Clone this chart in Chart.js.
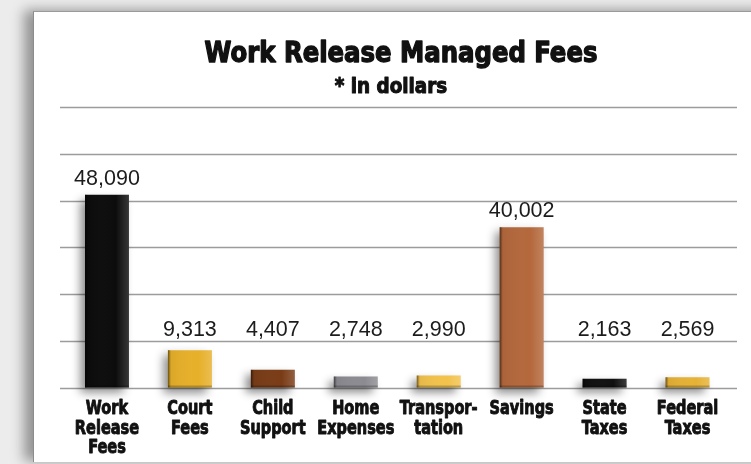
<!DOCTYPE html>
<html>
<head>
<meta charset="utf-8">
<script src="https://cdn.jsdelivr.net/npm/chart.js@4.4.1/dist/chart.umd.min.js"></script>
<style>
  html, body { margin: 0; padding: 0; width: 751px; height: 464px; overflow: hidden; background: #ececec; }
  #panel {
    position: absolute; left: 33px; top: 11px; right: -30px; bottom: 2px;
    background: #ffffff;
    border-left: 1px solid #8c8c8c; border-top: 1px solid #9a9a9a;
    box-shadow: -9px -1px 12px rgba(0,0,0,0.38);
  }
  #wrap { position: absolute; left: 0; top: 0; width: 751px; height: 464px; }
</style>
</head>
<body>
<div id="panel"></div>
<div id="wrap"><canvas id="chart" width="751" height="464"></canvas></div>
<script>
// Chart heading
const titleText = 'Work Release Managed Fees';
const subtitleText = '* in dollars';
// Categories (multi-line axis labels)
const categories = [
  ['Work', 'Release', 'Fees'],
  ['Court', 'Fees'],
  ['Child', 'Support'],
  ['Home', 'Expenses'],
  ['Transpor-', 'tation'],
  ['Savings'],
  ['State', 'Taxes'],
  ['Federal', 'Taxes']
];
// Amounts in dollars
const amounts = [48090, 9313, 4407, 2748, 2990, 40002, 2163, 2569];
const barColors = ['#0c0c0c', '#e7b02a', '#7a3c17', '#8b8b91', '#f2c24c', '#b4683c', '#101010', '#e6b236'];
// Value axis: six equal bands up to the top rule
const axisMax = 70000;
const axisBands = 6;

const condensed = "'DejaVu Sans Condensed', 'Liberation Sans Narrow', sans-serif";

// Heavy condensed text: fill plus a thin outline to thicken the strokes
function heavyText(ctx, text, x, y, size, sx, weight) {
  ctx.save();
  ctx.font = 'bold ' + size + 'px ' + condensed;
  ctx.fillStyle = '#111';
  ctx.strokeStyle = '#111';
  ctx.lineWidth = weight;
  ctx.lineJoin = 'round';
  ctx.textAlign = 'center';
  ctx.textBaseline = 'alphabetic';
  ctx.translate(x, y);
  ctx.scale(sx, 1);
  ctx.fillText(text, 0, 0);
  ctx.strokeText(text, 0, 0);
  ctx.restore();
}

// Title block above the rules
const headingPlugin = {
  id: 'heading',
  afterDraw(chart) {
    const ctx = chart.ctx;
    heavyText(ctx, titleText, 401, 61.5, 28.5, 0.95, 1.3);
    heavyText(ctx, subtitleText, 391, 93.3, 21.5, 0.95, 1.0);
  }
};

// Horizontal rules across the panel, at the value-axis ticks
const rulesPlugin = {
  id: 'rules',
  beforeDatasetsDraw(chart) {
    const y = chart.scales.y;
    const ctx = chart.ctx;
    ctx.save();
    ctx.strokeStyle = '#9c9c9c';
    ctx.lineWidth = 1.6;
    y.ticks.forEach(t => {
      const py = Math.round(y.getPixelForValue(t.value)) + 0.5;
      ctx.beginPath();
      ctx.moveTo(60, py);
      ctx.lineTo(737, py);
      ctx.stroke();
    });
    ctx.restore();
  }
};

// Soft drop shadow behind the bars, bevel shading, value labels
const barsPlugin = {
  id: 'barDecor',
  beforeDatasetsDraw(chart) {
    const ctx = chart.ctx;
    ctx.save();
    ctx.shadowColor = 'rgba(0,0,0,0.45)';
    ctx.shadowBlur = 9;
    ctx.shadowOffsetX = -5;
    ctx.shadowOffsetY = 5;
  },
  afterDatasetsDraw(chart) {
    const ctx = chart.ctx;
    ctx.restore();
    const meta = chart.getDatasetMeta(0);
    meta.data.forEach(bar => {
      const left = bar.x - bar.width / 2;
      const g = ctx.createLinearGradient(left, 0, left + bar.width, 0);
      g.addColorStop(0, 'rgba(0,0,0,0.55)');
      g.addColorStop(0.07, 'rgba(0,0,0,0.05)');
      g.addColorStop(0.7, 'rgba(255,255,255,0)');
      g.addColorStop(1, 'rgba(255,255,255,0.18)');
      ctx.save();
      ctx.fillStyle = g;
      ctx.fillRect(left, bar.y, bar.width, bar.base - bar.y);
      const v = ctx.createLinearGradient(0, bar.base - 3, 0, bar.base);
      v.addColorStop(0, 'rgba(0,0,0,0)');
      v.addColorStop(1, 'rgba(0,0,0,0.35)');
      ctx.fillStyle = v;
      ctx.fillRect(left, bar.base - 3, bar.width, 3);
      ctx.restore();
    });
    ctx.save();
    ctx.font = "21.5px 'Liberation Sans', Arial, sans-serif";
    ctx.fillStyle = '#1c1c1c';
    ctx.textAlign = 'center';
    ctx.textBaseline = 'alphabetic';
    const floor = chart.chartArea.bottom - 52;
    meta.data.forEach((bar, i) => {
      const yb = Math.min(bar.y - 10, floor);
      ctx.fillText(amounts[i].toLocaleString('en-US'), bar.x, yb);
    });
    ctx.restore();
  }
};

// Narrow heavy category labels under each bar
const categoryLabelsPlugin = {
  id: 'categoryLabels',
  afterDraw(chart) {
    const x = chart.scales.x;
    const top = chart.chartArea.bottom;
    categories.forEach((lines, i) => {
      const cx = x.getPixelForTick(i);
      lines.forEach((line, j) => {
        heavyText(chart.ctx, line, cx, top + 26.5 + j * 19.5, 19, 0.85, 0.9);
      });
    });
  }
};

new Chart(document.getElementById('chart'), {
  type: 'bar',
  data: {
    labels: categories,
    datasets: [{
      data: amounts,
      backgroundColor: barColors,
      borderWidth: 0,
      categoryPercentage: 1,
      barPercentage: 0.53,
      clip: false
    }]
  },
  options: {
    responsive: false,
    animation: false,
    events: [],
    layout: { padding: { left: 65.5, right: 22, top: 107, bottom: 76.5 } },
    plugins: {
      legend: { display: false },
      tooltip: { enabled: false },
      title: { display: false }
    },
    scales: {
      x: {
        grid: { display: false, drawTicks: false, tickLength: 0 },
        border: { display: false },
        ticks: { display: false }
      },
      y: {
        display: false,
        min: 0,
        max: axisMax,
        ticks: { stepSize: axisMax / axisBands }
      }
    }
  },
  plugins: [rulesPlugin, barsPlugin, categoryLabelsPlugin, headingPlugin]
});
</script>
</body>
</html>
